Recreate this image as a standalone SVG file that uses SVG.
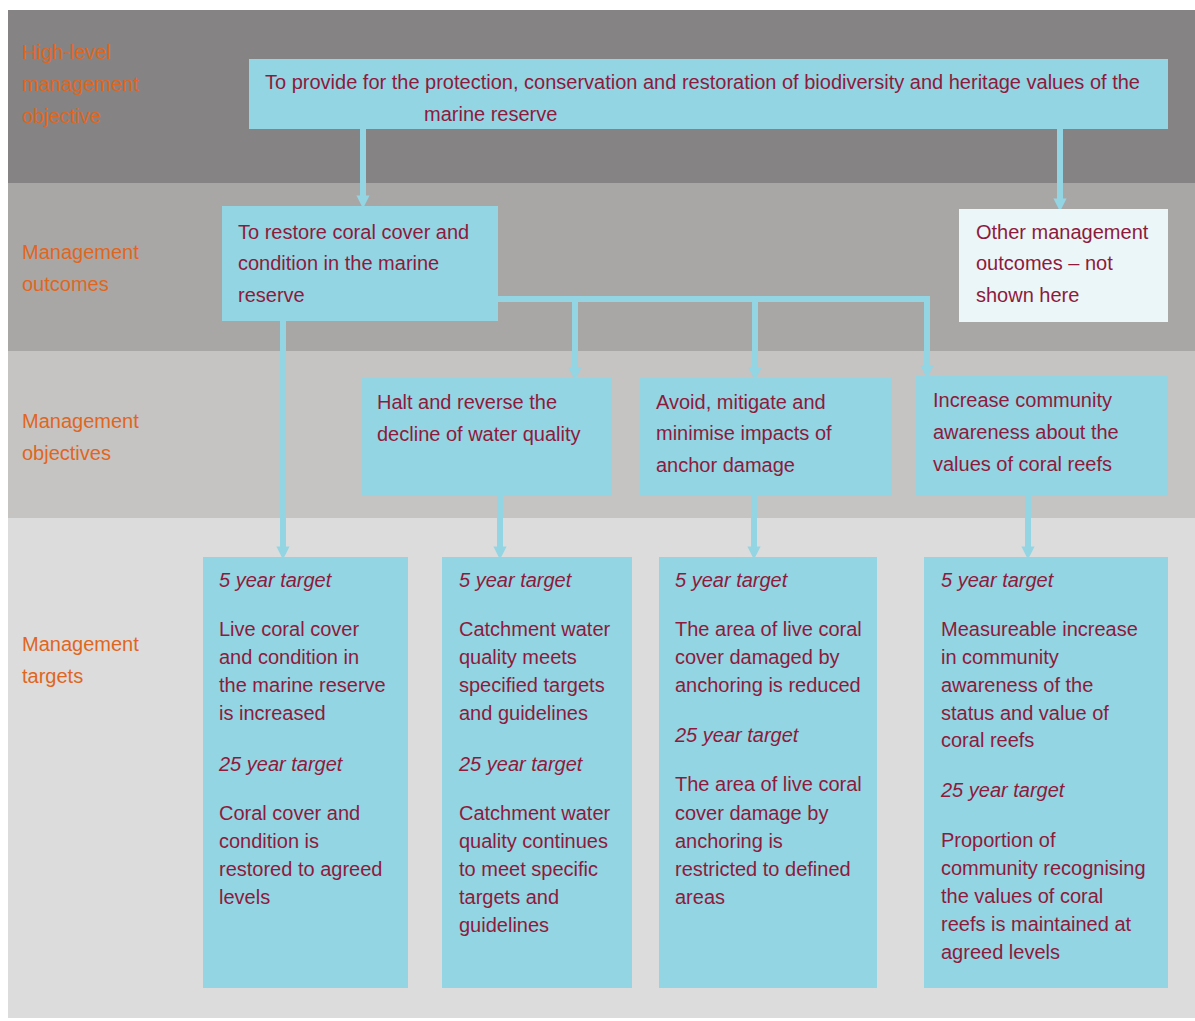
<svg xmlns="http://www.w3.org/2000/svg" width="1195" height="1021" viewBox="0 0 1195 1021">
<defs>
<style>
.t{font-family:"Liberation Sans",Arial,sans-serif;font-size:20px;fill:#8e1a3c}
.i{font-style:italic}
.lab{font-family:"Liberation Sans",Arial,sans-serif;font-size:20px;fill:#e0661e}
.box{fill:#93d5e2}
.wbox{fill:#eaf6f7}
.c{stroke:#93d5e2;stroke-width:6;fill:none;stroke-linejoin:miter}
</style>
<marker id="ah" viewBox="0 0 10 10" refX="5" refY="5" markerWidth="2.2" markerHeight="2.2" orient="auto" markerUnits="strokeWidth">
<path d="M0,0 L10,5 L0,10 Z" fill="#93d5e2"/>
</marker>
</defs>
<rect width="1195" height="1021" fill="#ffffff"/>
<rect x="8" y="10" width="1187" height="173" fill="#858383"/>
<rect x="8" y="183" width="1187" height="168" fill="#a9a6a6"/>
<rect x="8" y="351" width="1187" height="167" fill="#c6c3c3"/>
<rect x="8" y="518" width="1187" height="500" fill="#dcdcdc"/>

<g id="labels">
<text class="lab" x="22" y="59">High-level</text>
<text class="lab" x="22" y="91">management</text>
<text class="lab" x="22" y="123">objective</text>
<text class="lab" x="22" y="259">Management</text>
<text class="lab" x="22" y="291">outcomes</text>
<text class="lab" x="22" y="428">Management</text>
<text class="lab" x="22" y="460">objectives</text>
<text class="lab" x="22" y="651">Management</text>
<text class="lab" x="22" y="683">targets</text>
</g>

<g id="connectors">
<path class="c" d="M363,129 V202" marker-end="url(#ah)"/>
<path class="c" d="M1060,129 V205" marker-end="url(#ah)"/>
<path class="c" d="M283,321 V553" marker-end="url(#ah)"/>
<path class="c" d="M498,299 H927 V372" marker-end="url(#ah)"/>
<path class="c" d="M575,299 V374" marker-end="url(#ah)"/>
<path class="c" d="M755,299 V374" marker-end="url(#ah)"/>
<path class="c" d="M500,496 V553" marker-end="url(#ah)"/>
<path class="c" d="M754,496 V553" marker-end="url(#ah)"/>
<path class="c" d="M1028,496 V553" marker-end="url(#ah)"/>
</g>

<g id="n-top">
<rect class="box" x="249" y="59" width="919" height="70"/>
<text class="t" x="265" y="89">To provide for the protection, conservation and restoration of biodiversity and heritage values of the</text>
<text class="t" x="424" y="121">marine reserve</text>
</g>

<g id="n-outcome">
<rect class="box" x="222" y="206" width="276" height="115"/>
<text class="t" x="238" y="239">To restore coral cover and</text>
<text class="t" x="238" y="270">condition in the marine</text>
<text class="t" x="238" y="302">reserve</text>
</g>

<g id="n-other">
<rect class="wbox" x="959" y="209" width="209" height="113"/>
<text class="t" x="976" y="239">Other management</text>
<text class="t" x="976" y="270">outcomes – not</text>
<text class="t" x="976" y="302">shown here</text>
</g>

<g id="n-obj1">
<rect class="box" x="362" y="378" width="250" height="118"/>
<text class="t" x="377" y="409">Halt and reverse the</text>
<text class="t" x="377" y="441">decline of water quality</text>
</g>

<g id="n-obj2">
<rect class="box" x="640" y="378" width="252" height="118"/>
<text class="t" x="656" y="409">Avoid, mitigate and</text>
<text class="t" x="656" y="440">minimise impacts of</text>
<text class="t" x="656" y="472">anchor damage</text>
</g>

<g id="n-obj3">
<rect class="box" x="916" y="376" width="252" height="120"/>
<text class="t" x="933" y="407">Increase community</text>
<text class="t" x="933" y="439">awareness about the</text>
<text class="t" x="933" y="471">values of coral reefs</text>
</g>

<g id="n-t1">
<rect class="box" x="203" y="557" width="205" height="431"/>
<text class="t i" x="219" y="587">5 year target</text>
<text class="t" x="219" y="636">Live coral cover</text>
<text class="t" x="219" y="664">and condition in</text>
<text class="t" x="219" y="692">the marine reserve</text>
<text class="t" x="219" y="720">is increased</text>
<text class="t i" x="219" y="771">25 year target</text>
<text class="t" x="219" y="820">Coral cover and</text>
<text class="t" x="219" y="848">condition is</text>
<text class="t" x="219" y="876">restored to agreed</text>
<text class="t" x="219" y="904">levels</text>
</g>

<g id="n-t2">
<rect class="box" x="442" y="557" width="190" height="431"/>
<text class="t i" x="459" y="587">5 year target</text>
<text class="t" x="459" y="636">Catchment water</text>
<text class="t" x="459" y="664">quality meets</text>
<text class="t" x="459" y="692">specified targets</text>
<text class="t" x="459" y="720">and guidelines</text>
<text class="t i" x="459" y="771">25 year target</text>
<text class="t" x="459" y="820">Catchment water</text>
<text class="t" x="459" y="848">quality continues</text>
<text class="t" x="459" y="876">to meet specific</text>
<text class="t" x="459" y="904">targets and</text>
<text class="t" x="459" y="932">guidelines</text>
</g>

<g id="n-t3">
<rect class="box" x="659" y="557" width="218" height="431"/>
<text class="t i" x="675" y="587">5 year target</text>
<text class="t" x="675" y="636">The area of live coral</text>
<text class="t" x="675" y="664">cover damaged by</text>
<text class="t" x="675" y="692">anchoring is reduced</text>
<text class="t i" x="675" y="742">25 year target</text>
<text class="t" x="675" y="791">The area of live coral</text>
<text class="t" x="675" y="820">cover damage by</text>
<text class="t" x="675" y="848">anchoring is</text>
<text class="t" x="675" y="876">restricted to defined</text>
<text class="t" x="675" y="904">areas</text>
</g>

<g id="n-t4">
<rect class="box" x="924" y="557" width="244" height="431"/>
<text class="t i" x="941" y="587">5 year target</text>
<text class="t" x="941" y="636">Measureable increase</text>
<text class="t" x="941" y="664">in community</text>
<text class="t" x="941" y="692">awareness of the</text>
<text class="t" x="941" y="720">status and value of</text>
<text class="t" x="941" y="747">coral reefs</text>
<text class="t i" x="941" y="797">25 year target</text>
<text class="t" x="941" y="847">Proportion of</text>
<text class="t" x="941" y="875">community recognising</text>
<text class="t" x="941" y="903">the values of coral</text>
<text class="t" x="941" y="931">reefs is maintained at</text>
<text class="t" x="941" y="959">agreed levels</text>
</g>
</svg>
